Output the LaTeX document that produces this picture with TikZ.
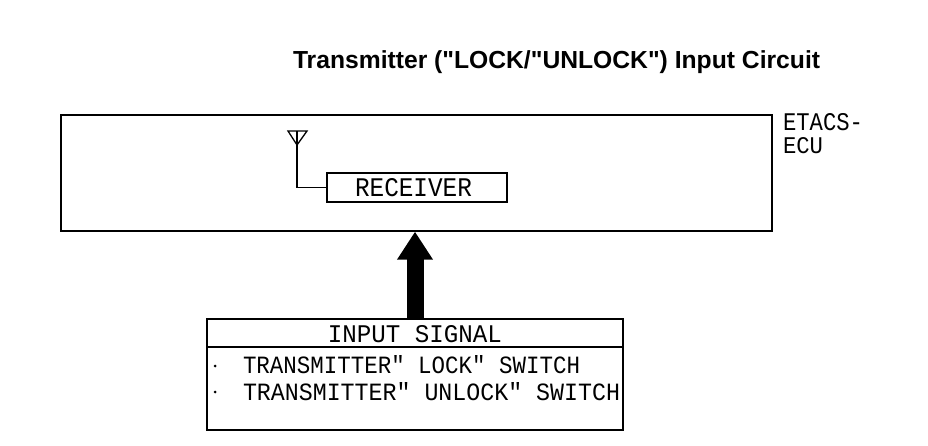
\documentclass[tikz,border=0pt]{standalone}
\usepackage{fontspec}
\setmainfont{Liberation Sans}[Ligatures=TeXOff]
\newfontfamily\monof{Liberation Mono}[Ligatures=TeXOff]
\usetikzlibrary{arrows.meta}
\newcommand{\fitt}[3]{\resizebox{#1pt}{#2pt}{\monof #3}}
\begin{document}
\begin{tikzpicture}[x=1pt,y=-1pt,
  boxline/.style={draw=black,line width=1.3pt,inner sep=0pt},
  txt/.style={inner sep=0pt,outer sep=0pt},
  bul/.style={circle,fill=black,inner sep=0pt,minimum size=3pt}]
\useasboundingbox (0,0) rectangle (928,446);
% title
\node[txt,anchor=west] (title) at (293,62) {\resizebox{527pt}{!}{\bfseries Transmitter ("LOCK/"UNLOCK") Input Circuit}};
% ECU box
\node[boxline,minimum width=711pt,minimum height=116pt] (ecu) at (416.5,173) {};
\node[txt,anchor=north west] (etacs) at (783,114) {\fitt{80}{17}{ETACS-}};
\node[txt,anchor=north west] (ecul) at (783,138) {\fitt{40}{16}{ECU}};
% receiver
\node[boxline,minimum width=180pt,minimum height=29pt] (rec) at (417,187.5) {};
\node[txt] (rect) at (413.5,188) {\fitt{117}{18}{RECEIVER}};
% antenna
\coordinate (ant) at (297,131);
\draw[line width=1.3pt] (288,131) -- (307,131) -- (297,145) -- cycle;
\draw[line width=1.3pt] (ant) |- (rec.west);
% input box
\node[boxline,minimum width=416pt,minimum height=111pt] (inp) at (415,374.5) {};
\coordinate (divl) at (207,347);
\coordinate (divr) at (623,347);
\draw[line width=1.3pt] (divl) -- (divr);
\node[txt] (sig) at (415,334.5) {\fitt{174}{17}{INPUT SIGNAL}};
\node[bul] (b1) at (215,366) {};
\node[bul] (b2) at (215,392) {};
\node[txt,anchor=west] (l1) at (243,365) {\fitt{337}{18}{TRANSMITTER" LOCK" SWITCH}};
\node[txt,anchor=west] (l2) at (243,392) {\fitt{377}{18}{TRANSMITTER" UNLOCK" SWITCH}};
% arrow
\draw[line width=17pt,-{Triangle[length=28pt,width=34pt]}] (inp.north) -- (inp.north |- ecu.south);
\end{tikzpicture}
\end{document}
